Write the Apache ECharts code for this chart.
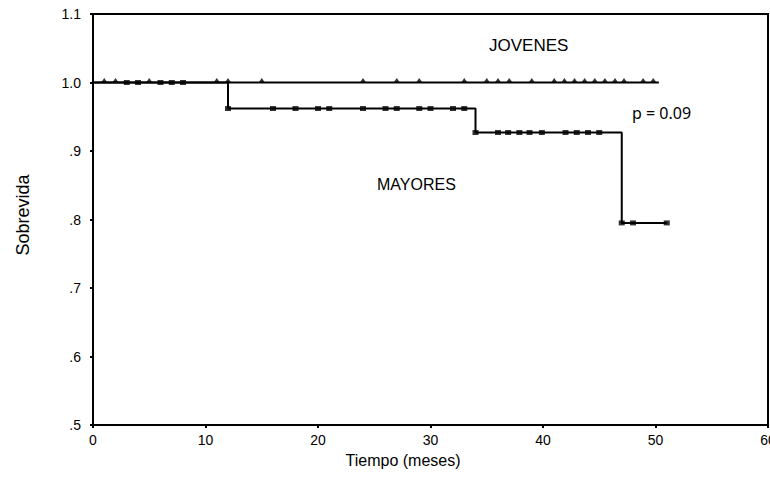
<!DOCTYPE html>
<html>
<head>
<meta charset="utf-8">
<script src="https://cdn.jsdelivr.net/npm/echarts@6/dist/echarts.min.js"></script>
<style>html,body{margin:0;padding:0;background:#fff;}#c{width:770px;height:496px;}</style>
</head>
<body>
<div id="c"></div>
<script>
// Kaplan-Meier curves
const jovenesTimes = [0, 50.3];
const jovenesSurv = [1.0, 1.0];
const jovenesCensored = [1, 2, 5, 11, 12, 15, 24, 27, 29, 33, 35, 36, 37, 39, 41, 41.9, 42.8, 43.7, 44.6, 45.5, 46.4, 47.2, 48.9, 49.8];

const mayoresTimes = [0, 12, 34, 47, 51];
const mayoresSurv = [1.0, 0.962, 0.927, 0.795, 0.795];
const mayoresCensored = [3, 4, 6, 7, 8, 12, 16, 18, 20, 21, 24, 26, 27, 29, 30, 32, 33, 34, 36, 36.9, 37.9, 38.8, 39.9, 42, 43, 44, 45, 47, 48, 51];

const xTicks = [0, 10, 20, 30, 40, 50, 60];
const yTicks = [0.5, 0.6, 0.7, 0.8, 0.9, 1.0, 1.1];

function survAt(times, surv, t) {
  let s = surv[0];
  for (let i = 0; i < times.length; i++) { if (times[i] <= t) s = surv[i]; }
  return s;
}

const chart = echarts.init(document.getElementById('c'), null, {renderer: 'svg'});
const font = 'Liberation Sans, Arial, sans-serif';
chart.setOption({
  animation: false,
  grid: {left: 93, right: 2, top: 14, bottom: 71, outerBoundsMode: 'none', containLabel: false,
    show: true, borderColor: '#000', borderWidth: 2, backgroundColor: 'transparent'},
  xAxis: {
    type: 'value', min: xTicks[0], max: xTicks[xTicks.length - 1], interval: 10,
    axisLine: {lineStyle: {color: '#000', width: 2}},
    axisTick: {show: true, length: 3, lineStyle: {color: '#000', width: 2}},
    axisLabel: {fontFamily: font, fontSize: 14, color: '#000', margin: 8, hideOverlap: false, showMaxLabel: true},
    splitLine: {show: false}
  },
  yAxis: {
    type: 'value', min: yTicks[0], max: yTicks[yTicks.length - 1], interval: 0.1,
    axisLine: {lineStyle: {color: '#000', width: 2}},
    axisTick: {show: true, length: 3, lineStyle: {color: '#000', width: 2}},
    axisLabel: {fontFamily: font, fontSize: 14, color: '#000', margin: 12,
      formatter: v => { const s = (Math.round(v * 10) / 10).toFixed(1); return v < 1 ? s.replace(/^0/, '') : s; }},
    splitLine: {show: false}
  },
  series: [
    {type: 'line', step: 'end', showSymbol: false, data: jovenesTimes.map((t, i) => [t, jovenesSurv[i]]),
      lineStyle: {color: '#000', width: 2}, itemStyle: {color: '#000'}},
    {type: 'line', step: 'end', showSymbol: false, data: mayoresTimes.map((t, i) => [t, mayoresSurv[i]]),
      lineStyle: {color: '#000', width: 2}, itemStyle: {color: '#000'}},
    {type: 'scatter', symbol: 'triangle', symbolSize: [7, 5], symbolOffset: [0, -2],
      data: jovenesCensored.map(t => [t, survAt(jovenesTimes, jovenesSurv, t)]), itemStyle: {color: '#000'}},
    {type: 'scatter', symbol: 'rect', symbolSize: [6, 5],
      data: mayoresCensored.map(t => [t, survAt(mayoresTimes, mayoresSurv, t)]), itemStyle: {color: '#000'}}
  ],
  graphic: [
    {type: 'text', left: 489, top: 37, style: {text: 'JOVENES', font: '17px ' + font, fill: '#000'}},
    {type: 'text', left: 377, top: 176, style: {text: 'MAYORES', font: '16px ' + font, fill: '#000'}},
    {type: 'text', left: 632, top: 105, style: {text: 'p = 0.09', font: '16px Noto Sans, sans-serif', fill: '#000'}},
    {type: 'text', x: 403, y: 460, style: {text: 'Tiempo (meses)', font: '16px ' + font, fill: '#000', align: 'center', verticalAlign: 'middle'}},
    {type: 'text', x: 23, y: 215, rotation: Math.PI / 2, style: {text: 'Sobrevida', font: '18px ' + font, fill: '#000', align: 'center', verticalAlign: 'middle'}}
  ]
});
</script>
</body>
</html>
